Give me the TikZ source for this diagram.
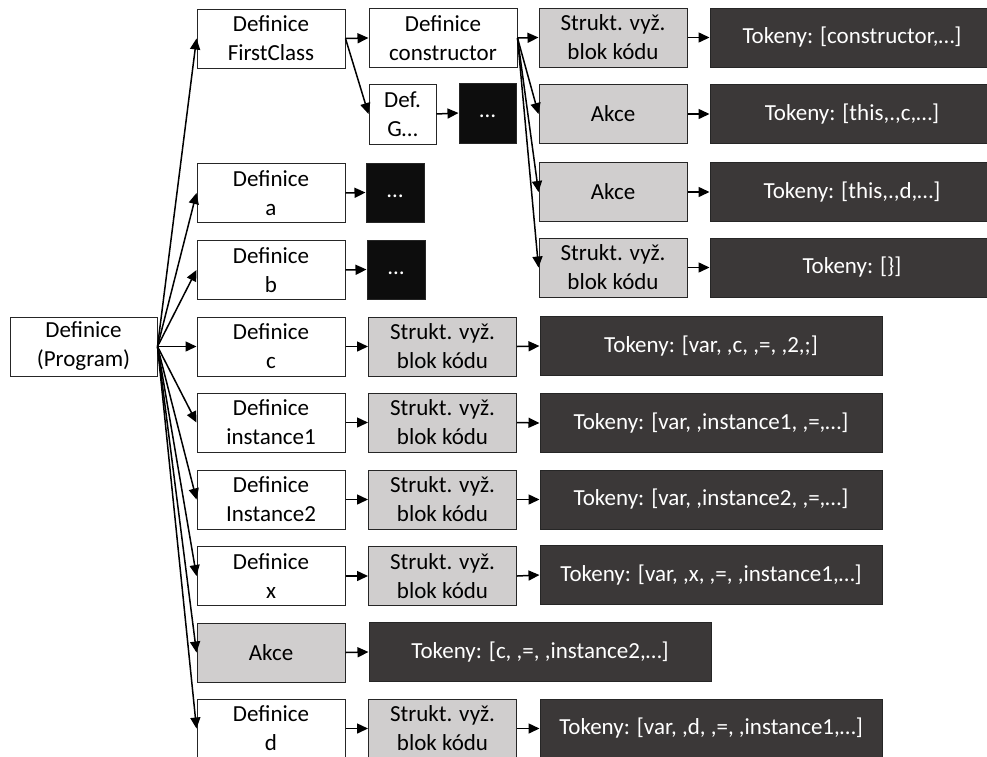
\documentclass[tikz,border=0pt]{standalone}
\usepackage{fontspec}
\setmainfont{Carlito}
\usetikzlibrary{arrows.meta}
\definecolor{lightbox}{HTML}{D0CECE}
\definecolor{darkbox}{HTML}{3B3838}
\definecolor{blackbox}{HTML}{0D0D0D}
\definecolor{edgegray}{HTML}{262626}

\begin{document}
\begin{tikzpicture}[x=1pt,y=-1pt,
  frame/.style={rectangle, draw=edgegray, line width=1pt, minimum height=59pt,
    inner sep=0pt, font=\fontsize{23}{29}\selectfont},
  base/.style={frame, align=center},
  defbox/.style={base, fill=white, minimum width=148pt},
  graybox/.style={base, fill=lightbox, minimum width=148pt},
  tokbox/.style={base, fill=darkbox, text=white, minimum width=342pt},
  widetok/.style={base, fill=darkbox, text=white, minimum width=284pt},
  dotbox/.style={frame, fill=blackbox, text=white, minimum width=58pt,
    text height=15pt, text depth=6pt},
  link/.style={line width=1.5pt, -{Triangle[length=11pt,width=10pt]}},
]
\clip (0,0) rectangle (987,756);
\fill[white] (0,0) rectangle (987,756);

% root
\node[defbox, minimum width=147pt] (prog) at (83.5,346.5) {Definice\\(Program)};

% second column: definitions of the program
\node[defbox] (fc)  at (271,38.5)  {Definice\\FirstClass};
\node[defbox] (da)  at (271,193)   {Definice\\a};
\node[defbox] (db)  at (271,270)   {Definice\\b};
\node[defbox] (dc)  at (271,346.5) {Definice\\c};
\node[defbox] (di1) at (271,422.5) {Definice\\instance1};
\node[defbox] (di2) at (271,499.5) {Definice\\Instance2};
\node[defbox] (dx)  at (271,576)   {Definice\\x};
\node[graybox] (akce) at (271,652.5) {Akce};
\node[defbox] (dd)  at (271,728.5) {Definice\\d};

% third column
\node[defbox] (cons) at (443,38) {Definice\\constructor};
\node[defbox, minimum width=67pt, minimum height=60pt] (defg) at (402.5,114) {Def.\\G…};
\node[dotbox, minimum width=57pt, minimum height=60pt] (dotsg) at (487.5,113) {…};
\node[dotbox] (dotsa) at (395,192.5) {…};
\node[dotbox] (dotsb) at (396,269.5) {…};
\node[graybox] (sc)  at (442.5,346.5) {Strukt. vyž.\\blok kódu};
\node[graybox] (si1) at (442.5,422.5) {Strukt. vyž.\\blok kódu};
\node[graybox] (si2) at (442.5,499.5) {Strukt. vyž.\\blok kódu};
\node[graybox] (sx)  at (442.5,576)   {Strukt. vyž.\\blok kódu};
\node[tokbox]  (takce) at (540,652)   {Tokeny: [c, ,=, ,instance2,…]};
\node[graybox] (sd)  at (442.5,728.5) {Strukt. vyž.\\blok kódu};

% constructor body
\node[graybox] (scons) at (613,37.5)  {Strukt. vyž.\\blok kódu};
\node[graybox] (ac)    at (613,114)   {Akce};
\node[graybox] (ad)    at (613,192)   {Akce};
\node[graybox] (send)  at (613,267.5) {Strukt. vyž.\\blok kódu};

% token lists of the constructor
\node[widetok] (tcons) at (852,37.5)  {Tokeny: [constructor,…]};
\node[widetok] (tac)   at (852,114)   {Tokeny: [this,.,c,…]};
\node[widetok] (tad)   at (852,192)   {Tokeny: [this,.,d,…]};
\node[widetok] (tend)  at (852,267.5) {Tokeny: [\}]};

% token lists of the top-level definitions
\node[tokbox] (tc)  at (711,346) {Tokeny: [var, ,c, ,=, ,2,;]};
\node[tokbox] (ti1) at (711,423) {Tokeny: [var, ,instance1, ,=,…]};
\node[tokbox] (ti2) at (711,499.5) {Tokeny: [var, ,instance2, ,=,…]};
\node[tokbox] (tx)  at (711,575) {Tokeny: [var, ,x, ,=, ,instance1,…]};
\node[tokbox] (td)  at (711,728.5) {Tokeny: [var, ,d, ,=, ,instance1,…]};

% connectors from the root
\foreach \t in {fc,da,db,dc,di1,di2,dx,akce,dd}
  \draw[link] (prog.east) -- (\t.west);

% connectors inside FirstClass
\draw[link] (fc.east) -- (cons.west);
\draw[link] (fc.east) -- (defg.west);
\draw[link] (defg.east) -- (dotsg.west);
\foreach \t in {scons,ac,ad,send}
  \draw[link] (cons.east) -- (\t.west);
\draw[link] (scons.east) -- (tcons.west);
\draw[link] (ac.east) -- (tac.west);
\draw[link] (ad.east) -- (tad.west);
\draw[link] (send.east) -- (tend.west);

% remaining chains
\draw[link] (da.east) -- (dotsa.west);
\draw[link] (db.east) -- (dotsb.west);
\draw[link] (dc.east) -- (sc.west);
\draw[link] (di1.east) -- (si1.west);
\draw[link] (di2.east) -- (si2.west);
\draw[link] (dx.east) -- (sx.west);
\draw[link] (dd.east) -- (sd.west);
\draw[link] (akce.east) -- (takce.west);
\draw[link] (sc.east) -- (tc.west);
\draw[link] (si1.east) -- (ti1.west);
\draw[link] (si2.east) -- (ti2.west);
\draw[link] (sx.east) -- (tx.west);
\draw[link] (sd.east) -- (td.west);
\end{tikzpicture}
\end{document}
